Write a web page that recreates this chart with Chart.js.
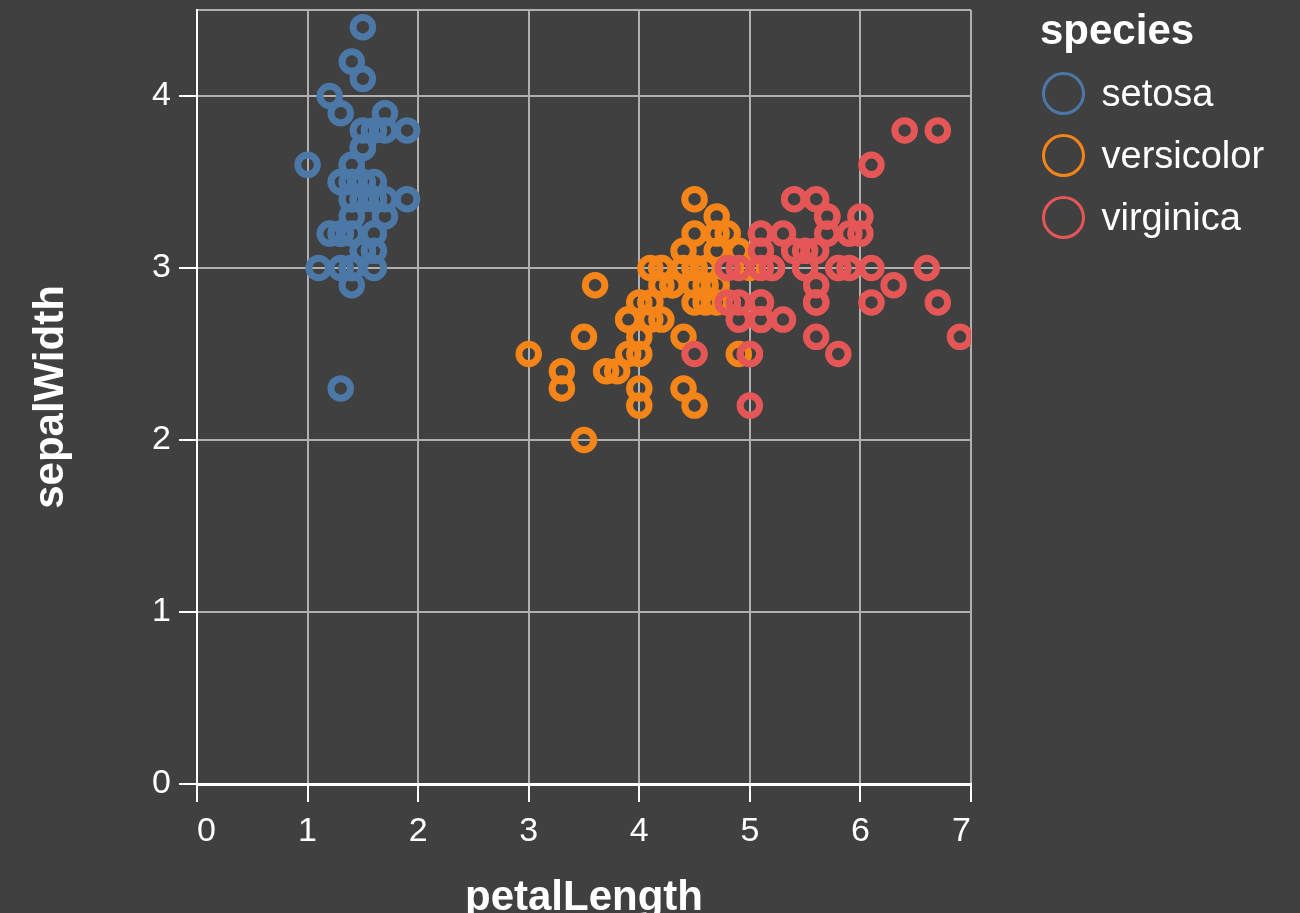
<!DOCTYPE html>
<html>
<head>
<meta charset="utf-8">
<title>Iris: petalLength vs sepalWidth</title>
<script src="https://cdn.jsdelivr.net/npm/chart.js@4.4.1/dist/chart.umd.min.js"></script>
<style>
  html, body { margin: 0; padding: 0; background: #404040; }
  #wrap { position: relative; width: 1300px; height: 913px; overflow: hidden; }
  #legend { position: absolute; left: 1040px; top: 0; color: #fff; font-family: "Liberation Sans", Arial, sans-serif; }
  #legend .title { position: absolute; left: 0; top: 9px; font-size: 42px; font-weight: bold; line-height: 42px; white-space: nowrap; }
  #legend ul { list-style: none; margin: 0; padding: 0; position: absolute; top: 62px; left: 0; }
  #legend li { display: flex; align-items: center; height: 62px; font-size: 38px; white-space: nowrap; }
  #legend .dot { box-sizing: border-box; width: 43px; height: 43px; border-radius: 50%; border: 3.5px solid; margin-left: 1.5px; margin-right: 17px; }
</style>
</head>
<body>
<div id="wrap">
  <canvas id="chart" width="1300" height="913"></canvas>
  <div id="legend">
    <div class="title">species</div>
    <ul id="legend-items"></ul>
  </div>
</div>
<script>
// Data (iris)
const species = ["setosa", "versicolor", "virginica"];
const colors = ["#4c78a8", "#f58518", "#e45756"];

const setosaPetalLength = [1.4,1.4,1.3,1.5,1.4,1.7,1.4,1.5,1.4,1.5,1.5,1.6,1.4,1.1,1.2,1.5,1.3,1.4,1.7,1.5,1.7,1.5,1.0,1.7,1.9,1.6,1.6,1.5,1.4,1.6,1.6,1.5,1.5,1.4,1.5,1.2,1.3,1.4,1.3,1.5,1.3,1.3,1.3,1.6,1.9,1.4,1.6,1.4,1.5,1.4];
const setosaSepalWidth = [3.5,3.0,3.2,3.1,3.6,3.9,3.4,3.4,2.9,3.1,3.7,3.4,3.0,3.0,4.0,4.4,3.9,3.5,3.8,3.8,3.4,3.7,3.6,3.3,3.4,3.0,3.4,3.5,3.4,3.2,3.1,3.4,4.1,4.2,3.1,3.2,3.5,3.6,3.0,3.4,3.5,2.3,3.2,3.5,3.8,3.0,3.8,3.2,3.7,3.3];

const versicolorPetalLength = [4.7,4.5,4.9,4.0,4.6,4.5,4.7,3.3,4.6,3.9,3.5,4.2,4.0,4.7,3.6,4.4,4.5,4.1,4.5,3.9,4.8,4.0,4.9,4.7,4.3,4.4,4.8,5.0,4.5,3.5,3.8,3.7,3.9,5.1,4.5,4.5,4.7,4.4,4.1,4.0,4.4,4.6,4.0,3.3,4.2,4.2,4.2,4.3,3.0,4.1];
const versicolorSepalWidth = [3.2,3.2,3.1,2.3,2.8,2.8,3.3,2.4,2.9,2.7,2.0,3.0,2.2,2.9,2.9,3.1,3.0,2.7,2.2,2.5,3.2,2.8,2.5,2.8,2.9,3.0,2.8,3.0,2.9,2.6,2.4,2.4,2.7,2.7,3.0,3.4,3.1,2.3,3.0,2.5,2.6,3.0,2.6,2.3,2.7,3.0,2.9,2.9,2.5,2.8];

const virginicaPetalLength = [6.0,5.1,5.9,5.6,5.8,6.6,4.5,6.3,5.8,6.1,5.1,5.3,5.5,5.0,5.1,5.3,5.5,6.7,6.9,5.0,5.7,4.9,6.7,4.9,5.7,6.0,4.8,4.9,5.6,5.8,6.1,6.4,5.6,5.1,5.6,6.1,5.6,5.5,4.8,5.4,5.6,5.1,5.1,5.9,5.7,5.2,5.0,5.2,5.4,5.1];
const virginicaSepalWidth = [3.3,2.7,3.0,2.9,3.0,3.0,2.5,2.9,2.5,3.6,3.2,2.7,3.0,2.5,2.8,3.2,3.0,3.8,2.6,2.2,3.2,2.8,2.8,2.7,3.3,3.2,2.8,3.0,2.8,3.0,2.8,3.8,2.8,2.8,2.6,3.0,3.4,3.1,3.0,3.1,3.1,3.1,2.7,3.2,3.3,3.0,2.5,3.0,3.4,3.0];

const petalLength = [setosaPetalLength, versicolorPetalLength, virginicaPetalLength];
const sepalWidth = [setosaSepalWidth, versicolorSepalWidth, virginicaSepalWidth];

// Styles
const fontFamily = '"Liberation Sans", Arial, sans-serif';
const tickFont = { family: fontFamily, size: 34 };
// small line height so the top label does not push the plot down
const yTickFont = { family: fontFamily, size: 34, lineHeight: 0.5 };
const titleFont = { family: fontFamily, size: 42, weight: "bold", lineHeight: 0.8 };
const gridColor = "#b0b0b0";

const datasets = species.map((name, i) => ({
  label: name,
  data: petalLength[i].map((x, j) => ({ x: x, y: sepalWidth[i][j] })),
  borderColor: colors[i],
  backgroundColor: "rgba(0,0,0,0)",
  pointRadius: 9.75,
  pointHoverRadius: 9.75,
  pointBorderWidth: 7,
  // later species drawn on top
  order: species.length - i,
}));

const ctx = document.getElementById("chart");
const chart = new Chart(ctx, {
  type: "scatter",
  data: { datasets: datasets },
  options: {
    responsive: false,
    animation: false,
    devicePixelRatio: 1,
    events: [],
    layout: { autoPadding: false, padding: { top: 10, right: 329, bottom: 0, left: 0 } },
    plugins: {
      legend: { display: false },
      tooltip: { enabled: false },
    },
    scales: {
      x: {
        type: "linear",
        min: 0,
        max: 7,
        ticks: { stepSize: 1, align: "inner", color: "#fff", font: tickFont, padding: 9 },
        grid: { color: gridColor, lineWidth: 2, tickLength: 18, tickColor: "#fff", tickWidth: 2 },
        border: { color: "#fff", width: 3 },
        title: { display: true, text: "petalLength", color: "#fff", font: titleFont, padding: { top: 0, bottom: -2 } },
        afterFit: (s) => {
          s.height = 129;
          s.paddingLeft = 0;
          s.paddingRight = 0;
        },
      },
      y: {
        type: "linear",
        min: 0,
        max: 4.5,
        ticks: {
          stepSize: 1,
          color: "#fff",
          font: yTickFont,
          padding: 8,
          callback: (v) => (Number.isInteger(v) ? v : ""),
        },
        grid: {
          color: gridColor,
          lineWidth: 2,
          tickLength: 18,
          tickWidth: 2,
          tickColor: (c) => (c.tick && !Number.isInteger(c.tick.value) ? "rgba(0,0,0,0)" : "#fff"),
        },
        border: { color: "#fff", width: 2 },
        title: { display: true, text: "sepalWidth", color: "#fff", font: titleFont, padding: { top: 35, bottom: 0 } },
        afterFit: (s) => {
          s.width = 197;
          s.paddingTop = 0;
          s.paddingBottom = 0;
        },
      },
    },
  },
});

// HTML legend from the chart's datasets
const legendList = document.getElementById("legend-items");
chart.data.datasets.forEach((ds) => {
  const li = document.createElement("li");
  const dot = document.createElement("span");
  dot.className = "dot";
  dot.style.borderColor = ds.borderColor;
  li.appendChild(dot);
  li.appendChild(document.createTextNode(ds.label));
  legendList.appendChild(li);
});
</script>
</body>
</html>
